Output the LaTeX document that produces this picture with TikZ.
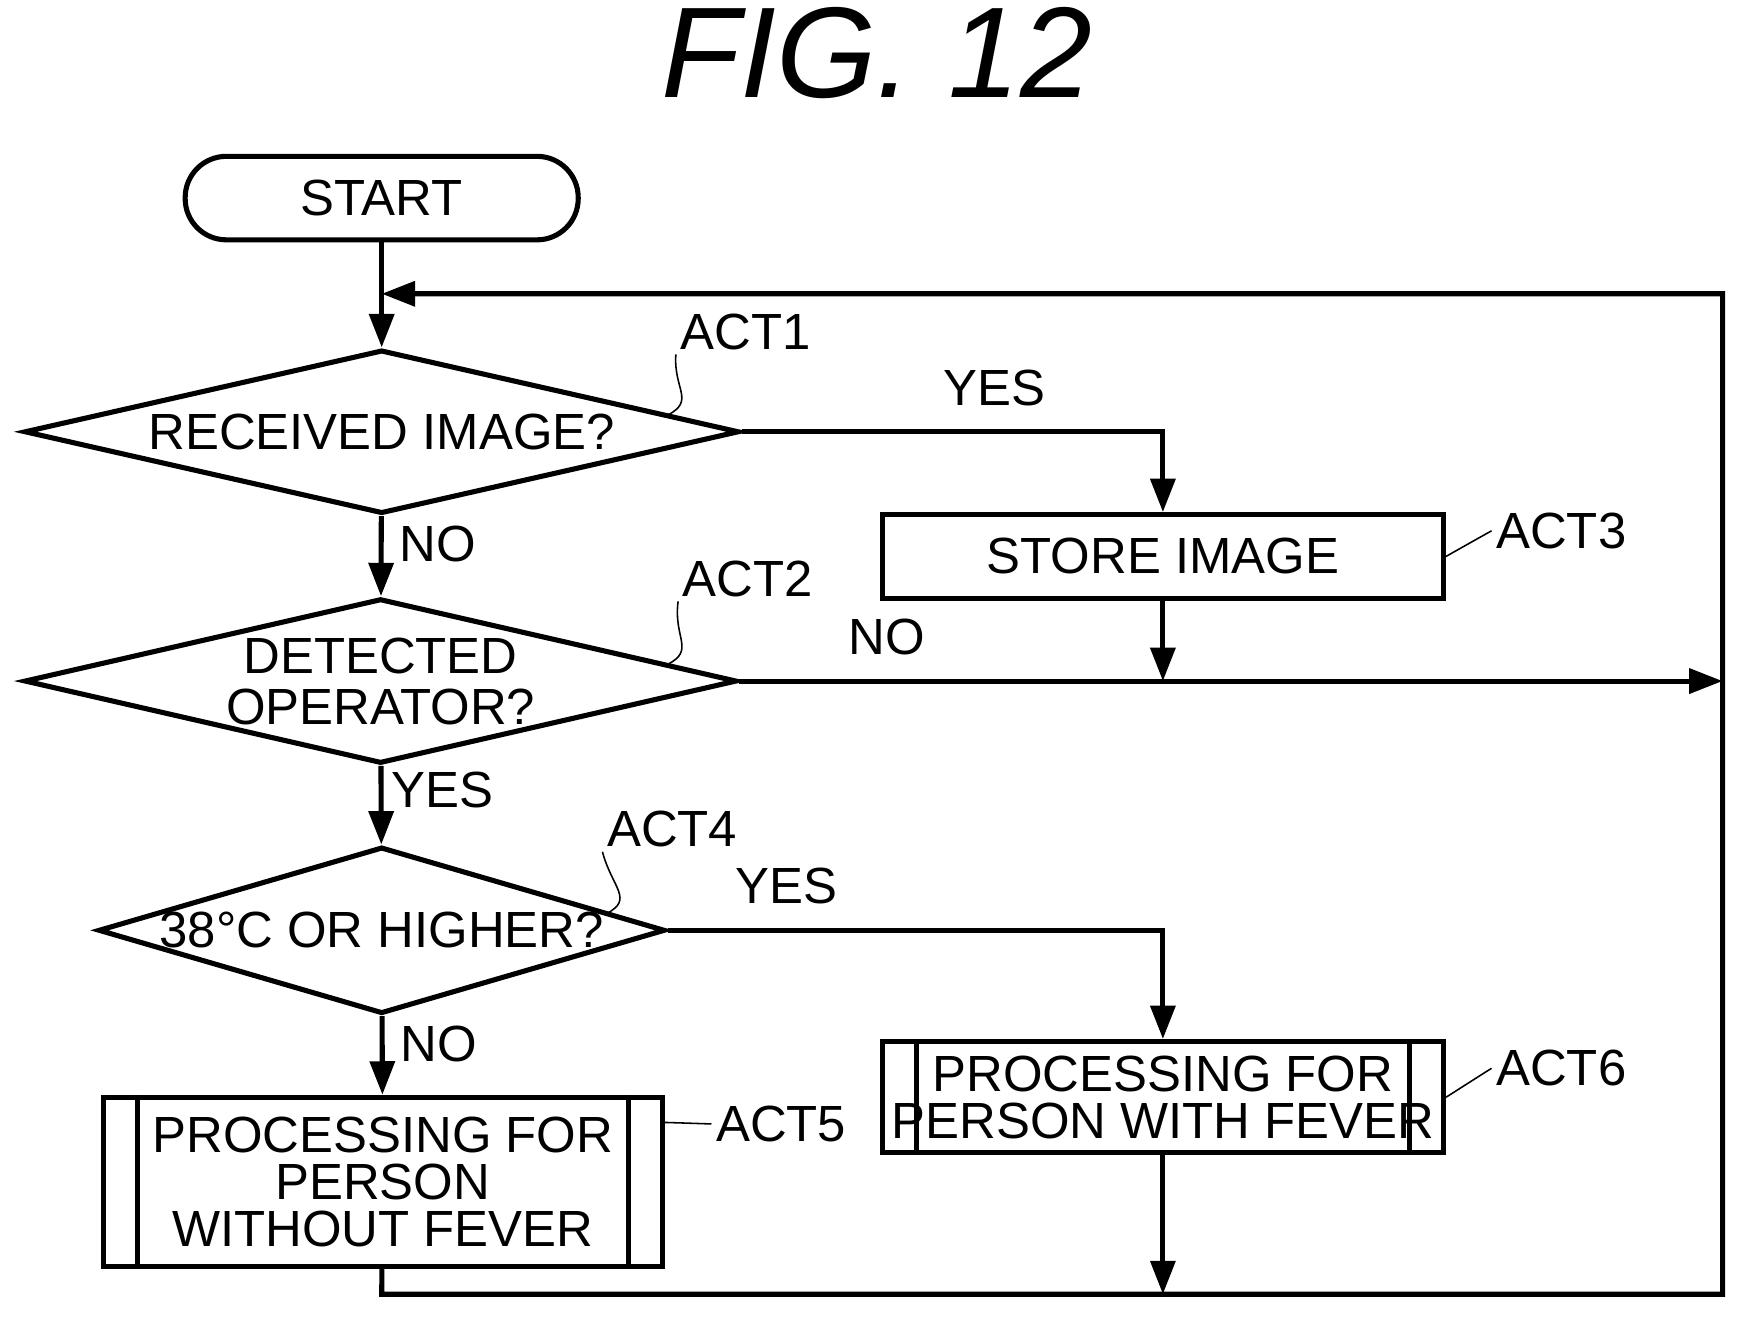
\documentclass[tikz,border=0pt]{standalone}
\usepackage{fontspec}
\setmainfont{Liberation Sans}
\usetikzlibrary{shapes.geometric,arrows.meta}
\tikzset{
  flow/.style={line width=1.3pt},
  arr/.style={flow, -{Triangle[length=0.3cm,width=0.22cm]}},
  decision/.style={draw, flow, diamond, inner sep=0pt, font=\fontsize{13}{15}\selectfont, align=center},
  actbox/.style={draw, flow, rectangle, inner sep=0pt, font=\fontsize{13}{15}\selectfont, align=center},
  tag/.style={font=\fontsize{13}{15}\selectfont, inner sep=1pt},
  lbl/.style={font=\fontsize{13}{15}\selectfont, inner sep=0pt},
}
\begin{document}
\begin{tikzpicture}[x=0.01cm, y=-0.01cm]
		\useasboundingbox (0,0) rectangle (1569,1184);

		\node[font=\itshape\fontsize{33}{36}\selectfont] (title) at (788,48) {FIG. 12};

		\node[actbox, rounded corners=0.37cm, minimum width=3.53cm, minimum height=0.75cm] (start) at (343,178) {START};
		\node[decision, minimum width=6.42cm, minimum height=1.47cm, aspect=4.4] (d1) at (343,388) {RECEIVED IMAGE?};
		\node[decision, minimum width=6.40cm, minimum height=1.48cm, aspect=4.3] (d2) at (342,612) {DETECTED\\[-2pt]OPERATOR?};
		\node[decision, minimum width=5.00cm, minimum height=1.48cm, aspect=3.4] (d3) at (343,836) {38\textdegree C OR HIGHER?};
		\node[actbox, minimum width=5.04cm, minimum height=0.75cm] (store) at (1045,500) {STORE IMAGE};
		\node[actbox, minimum width=5.04cm, minimum height=1.00cm] (fever) at (1045,986) {PROCESSING FOR\\[-3pt]PERSON WITH FEVER};
		\node[actbox, minimum width=5.02cm, minimum height=1.52cm] (nofever) at (344,1062) {PROCESSING FOR\\[-3pt]PERSON\\[-3pt]WITHOUT FEVER};

		% inner bars of the sub-process boxes
		\foreach \b in {fever, nofever} {
			\draw[flow] ([xshift=0.33cm]\b.north west) -- ([xshift=0.33cm]\b.south west);
			\draw[flow] ([xshift=-0.33cm]\b.north east) -- ([xshift=-0.33cm]\b.south east);
		}

		% step tags
		\node[tag] (t1) at (670,298) {ACT1};
		\node[tag] (t2) at (672,520) {ACT2};
		\node[tag] (t3) at (1403,477) {ACT3};
		\node[tag] (t4) at (604,745) {ACT4};
		\node[tag] (t5) at (702,1010) {ACT5};
		\node[tag] (t6) at (1403,960) {ACT6};
		\coordinate (c1) at (600,373);
		\coordinate (c2) at (600,597);
		\coordinate (c4) at (545,821);
		\draw[thin] (c1) .. controls (625,360) and (605,350) .. (t1.south west);
		\draw[thin] (c2) .. controls (625,584) and (605,574) .. (t2.south west);
		\draw[thin] (c4) .. controls (570,808) and (550,798) .. (t4.south west);
		\draw[thin] (store.east) .. controls +(0.2,-0.1) and +(-0.2,0) .. (t3.west);
		\draw[thin] (fever.east) .. controls +(0.2,-0.1) and +(-0.2,0) .. (t6.west);
		\draw[thin] (nofever.north east) ++(0,25) coordinate (c5) .. controls +(0.2,-0.1) and +(-0.2,0) .. (t5.west);

		% corner points of the loop
		\coordinate (back) at (343,264);
		\coordinate (rtop) at (1548,264);
		\coordinate (rbot) at (1548,1163);
		\coordinate (lbot) at (343,1163);
		\coordinate (mbot) at (1045,1163);
		\coordinate (nomid) at (1045,612);
		\coordinate (rmid) at (1548,612);

		\draw[flow] (start) -- (back);
		\draw[arr] (back) -- (d1);
		\draw[arr] (d1) -- (d2) node[lbl, pos=0.35, right=4pt] {NO};
		\draw[arr] (d2) -- (d3) node[lbl, pos=0.3, right=2pt] {YES};
		\draw[arr] (d3) -- (nofever) node[lbl, pos=0.35, right=4pt] {NO};
		\draw[arr] (d1.east) -| (store.north) node[lbl, pos=0.3, above=6pt] {YES};
		\draw[arr] (d3.east) -| (fever.north) node[lbl, pos=0.12, above=6pt] {YES};
		\draw[arr] (d2.east) -- (rmid) node[lbl, pos=0.15, above=6pt] {NO};
		\draw[arr] (store) -- (nomid);
		\draw[arr] (fever) -- (mbot);
		\draw[arr] (nofever) -- (lbot) -- (rbot) -- (rtop) -- (back);
\end{tikzpicture}
\end{document}
